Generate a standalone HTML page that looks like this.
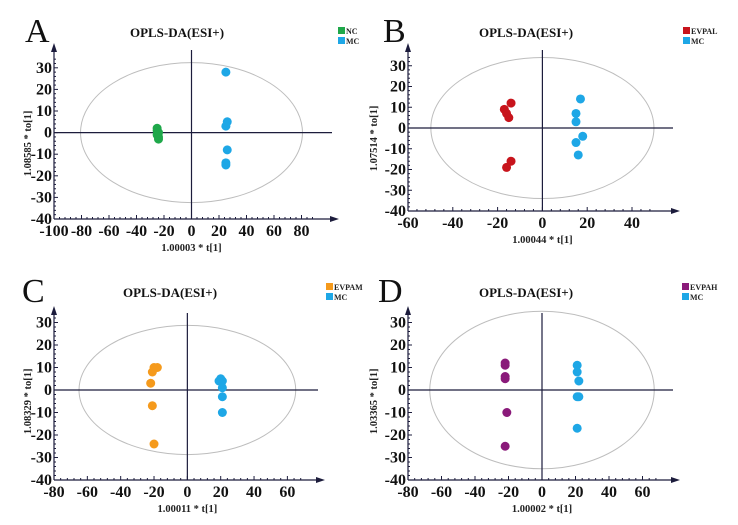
<!DOCTYPE html>
<html><head><meta charset="utf-8"><style>
body{margin:0;background:#fff}
svg{display:block;font-family:"Liberation Serif",serif}
</style></head><body>
<svg id="fig" width="738" height="525" viewBox="0 0 738 525"></svg>
<script>
// Panel A data
const aGroup1X=[-25,-25,-24,-25,-24,-24];
const aGroup1Y=[2,1,0,-1,-2,-3];
const aGroup2X=[25,26,25,26,25,25];
const aGroup2Y=[28,5,3,-8,-14,-15];
const aXTicks=[-100,-80,-60,-40,-20,0,20,40,60,80];
// Panel B data
const bGroup1X=[-14,-17,-16,-15,-14,-16];
const bGroup1Y=[12,9,7,5,-16,-19];
const bGroup2X=[17,15,15,18,15,16];
const bGroup2Y=[14,7,3,-4,-7,-13];
const bXTicks=[-60,-40,-20,0,20,40];
// Panel C data
const cGroup1X=[-20,-18,-21,-22,-21,-20];
const cGroup1Y=[10,10,8,3,-7,-24];
const cGroup2X=[20,21,21,21,21,19];
const cGroup2Y=[5,4,1,-3,-10,4];
const cXTicks=[-80,-60,-40,-20,0,20,40,60];
// Panel D data
const dGroup1X=[-22,-22,-22,-22,-21,-22];
const dGroup1Y=[12,11,6,5,-10,-25];
const dGroup2X=[21,21,22,21,22,21];
const dGroup2Y=[11,8,4,-3,-3,-17];
const dXTicks=[-80,-60,-40,-20,0,20,40,60];
const yTicks=[-40,-30,-20,-10,0,10,20,30];

const NS="http://www.w3.org/2000/svg";
const svg=document.getElementById('fig');
function mk(tag,attrs,parent,text){const e=document.createElementNS(NS,tag);for(const k in attrs)e.setAttribute(k,attrs[k]);if(text!==undefined)e.textContent=text;(parent||svg).appendChild(e);return e;}

function panel(p){
  const g=mk('g',{});
  
  
  const sx=v=>p.x0+(v-p.xmin)*p.kx;
  const sy=v=>p.y0-(v-(-40))*p.ky;
  const ox=sx(0), oy=sy(0), left=sx(p.xmin), bottom=sy(-40);
  const col='#1c1c3c';
  const el=mk('ellipse',{cx:ox,cy:oy,rx:p.erx*p.kx,ry:p.ery*p.ky,fill:'none',stroke:'#bdbdbd','stroke-width':1},g);
  
  
  mk('line',{x1:left,y1:oy,x2:p.xend,y2:oy,stroke:col,'stroke-width':1.2},g);
  mk('line',{x1:ox,y1:p.ytop,x2:ox,y2:bottom,stroke:col,'stroke-width':1.2},g);
  const xa=mk('line',{x1:left,y1:bottom,x2:p.xend,y2:bottom,stroke:col,'stroke-width':1.2},g);
  
  
  mk('polygon',{points:`${p.xend+7},${bottom} ${p.xend-2},${bottom-3} ${p.xend-2},${bottom+3}`,fill:col},g);
  const ya=mk('line',{x1:left,y1:bottom,x2:left,y2:p.ytop,stroke:col,'stroke-width':1.2},g);
  
  
  mk('polygon',{points:`${left},${p.ytop-7} ${left-3},${p.ytop+2} ${left+3},${p.ytop+2}`,fill:col},g);
  const xmaxT=p.xticks[p.xticks.length-1];
  for(let v=p.xmin;v<=xmaxT+10;v+=p.minor){const x=sx(v);if(x>p.xend)break;const major=p.xticks.includes(v);mk('line',{x1:x,y1:bottom,x2:x,y2:bottom-(major?4:2),stroke:col,'stroke-width':1},g);}
  p.xticks.forEach(v=>{const t=mk('text',{x:sx(v),y:bottom+17,'text-anchor':'middle','font-size':16,'font-weight':'bold',fill:'#111'},g,String(v));});
  for(let v=-40;v<=35;v+=2){const y=sy(v);const major=v%10===0;mk('line',{x1:left,y1:y,x2:left+(major?4:2),y2:y,stroke:col,'stroke-width':1},g);}
  yTicks.forEach(v=>{const t=mk('text',{x:left-2,y:sy(v)+5,'text-anchor':'end','font-size':16,'font-weight':'bold',fill:'#111'},g,String(v));});
  const xt=mk('text',{x:ox,y:bottom+32,'text-anchor':'middle','font-size':10.5,'font-weight':'bold',fill:'#222'},g,p.xlabel);
  
  const yc=(sy(-40)+sy(30))/2;
  const yt=mk('text',{x:p.ylx,y:yc,'text-anchor':'middle','font-size':10.5,'font-weight':'bold',fill:'#222',transform:`rotate(-90 ${p.ylx} ${yc})`},g,p.ylabel);
  
  const tt=mk('text',{x:p.tx,y:p.ty,'text-anchor':'middle','font-size':13,'font-weight':'bold',fill:'#111'},g,'OPLS-DA(ESI+)');
  
  const lt=mk('text',{x:p.lx,y:p.ly,'font-size':34,fill:'#111'},g,p.letter);
  
  const drawPts=(xs,ys,c,name)=>xs.forEach((v,i)=>{const d=mk('circle',{cx:sx(v),cy:sy(ys[i]),r:4.5,fill:c},g);});
  drawPts(p.g1x,p.g1y,p.c1,'point-'+p.n1.toLowerCase());
  drawPts(p.g2x,p.g2y,'#1ea7e6','point-mc');
  [[p.n1,p.c1],['MC','#1ea7e6']].forEach((e,i)=>{
    const lg=mk('g',{},g);
    
    
    mk('rect',{x:p.legx,y:p.legy+i*10,width:7,height:7,fill:e[1]},lg);
    mk('text',{x:p.legx+8,y:p.legy+i*10+7,'font-size':8,'font-weight':'bold',fill:'#222'},lg,e[0]);
  });
}
panel({letter:'A',x0:54,xmin:-100,kx:1.375,y0:219,ky:2.16,xend:332,ytop:50,xticks:aXTicks,minor:4,erx:80.7,ery:32.4,
  g1x:aGroup1X,g1y:aGroup1Y,g2x:aGroup2X,g2y:aGroup2Y,c1:'#1fa84a',n1:'NC',xlabel:'1.00003 * t[1]',ylabel:'1.08585 * to[1]',ylx:31,tx:177,ty:37,lx:25,ly:42,legx:338,legy:27});
panel({letter:'B',x0:408,xmin:-60,kx:2.24,y0:211,ky:2.075,xend:673,ytop:50,xticks:bXTicks,minor:4,erx:49.8,ery:34,
  g1x:bGroup1X,g1y:bGroup1Y,g2x:bGroup2X,g2y:bGroup2Y,c1:'#c8141c',n1:'EVPAL',xlabel:'1.00044 * t[1]',ylabel:'1.07514 * to[1]',ylx:377,tx:526,ty:37,lx:383,ly:42,legx:683,legy:27});
panel({letter:'C',x0:54,xmin:-80,kx:1.667,y0:480,ky:2.25,xend:318,ytop:313,xticks:cXTicks,minor:4,erx:65,ery:28.7,
  g1x:cGroup1X,g1y:cGroup1Y,g2x:cGroup2X,g2y:cGroup2Y,c1:'#f59a1c',n1:'EVPAM',xlabel:'1.00011 * t[1]',ylabel:'1.08329 * to[1]',ylx:31,tx:170,ty:297,lx:22,ly:302,legx:326,legy:283});
panel({letter:'D',x0:408,xmin:-80,kx:1.675,y0:480,ky:2.25,xend:673,ytop:313,xticks:dXTicks,minor:4,erx:67,ery:35,
  g1x:dGroup1X,g1y:dGroup1Y,g2x:dGroup2X,g2y:dGroup2Y,c1:'#8a1a7a',n1:'EVPAH',xlabel:'1.00002 * t[1]',ylabel:'1.03365 * to[1]',ylx:377,tx:526,ty:297,lx:378,ly:302,legx:682,legy:283});
</script>
</body></html>
